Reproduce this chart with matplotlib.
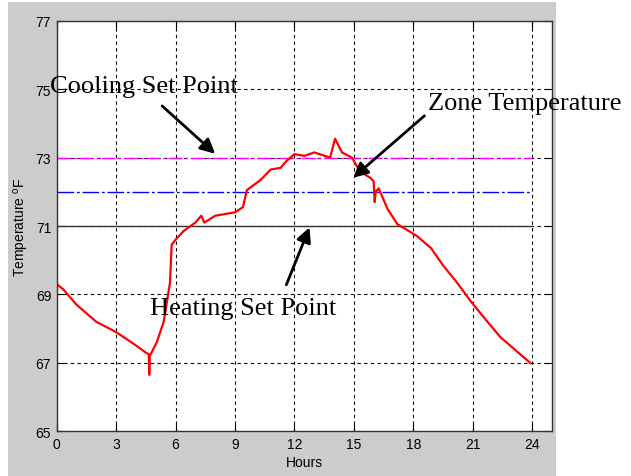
import matplotlib
matplotlib.use("Agg")
from matplotlib import pyplot as plt
from matplotlib.patches import Rectangle

plt.rcParams.update(
    {
        "font.family": "Liberation Sans",
        "font.size": 10,
        "mathtext.fontset": "custom",
        "mathtext.rm": "Liberation Sans",
    }
)

# zone temperature (hours, degF)
hours = [0, 0, 0.33, 1.0, 2.0, 3.0, 3.9, 4.5, 4.65, 4.67, 4.7, 5.05, 5.4, 5.72,
         5.8, 6.0, 6.4, 7.0, 7.3, 7.45, 8.0, 9.0, 9.4, 9.6, 10.3, 10.8, 11.3,
         11.6, 12.0, 12.5, 13.0, 13.8, 14.05, 14.4, 14.9, 15.3, 15.85, 16.0,
         16.05, 16.1, 16.25, 16.7, 17.2, 17.5, 18.2, 18.9, 19.5, 20.2, 20.9,
         21.6, 22.4, 23.2, 23.9]
zone_temp = [68.1, 69.3, 69.15, 68.7, 68.2, 67.9, 67.55, 67.3, 67.25, 66.65,
             67.2, 67.6, 68.2, 69.35, 70.45, 70.6, 70.85, 71.1, 71.3, 71.1,
             71.3, 71.4, 71.55, 72.05, 72.35, 72.65, 72.7, 72.9, 73.1, 73.05,
             73.15, 73.0, 73.55, 73.15, 73.0, 72.6, 72.4, 72.3, 71.7, 72.0,
             72.1, 71.5, 71.05, 70.95, 70.7, 70.35, 69.85, 69.35, 68.8, 68.3,
             67.75, 67.35, 67.0]

cooling_sp = 73
middle_sp = 72
heating_sp = 71
sp_hours = [0, 24]

x_ticks = [0, 3, 6, 9, 12, 15, 18, 21, 24]
y_ticks = [65, 67, 69, 71, 73, 75, 77]

fig = plt.figure(figsize=(6.31, 4.77), dpi=100, facecolor="white")
fig.patches.append(Rectangle((8 / 631, 0), 548 / 631, 474 / 477,
                             transform=fig.transFigure, facecolor="#cccccc",
                             edgecolor="none", zorder=-10))

ax = fig.add_axes([56.7 / 631, 1 - 432.3 / 477, 495.3 / 631, 410.6 / 477])
ax.set_facecolor("white")

ax.plot(sp_hours, [cooling_sp] * 2, color="magenta", lw=1, ls=(0, (10, 2, 2, 2)))
ax.plot(sp_hours, [middle_sp] * 2, color="blue", lw=1, ls=(0, (12, 2, 2, 2)))
ax.plot(sp_hours, [heating_sp] * 2, color="#333333", lw=1)
ax.plot(hours, zone_temp, color="red", lw=1.6)

ax.set_xlim(0, 25)
ax.set_ylim(65, 77)
ax.set_xticks(x_ticks)
ax.set_yticks(y_ticks)
ax.grid(True, color="black", lw=0.8, ls=(0, (3, 3)))
ax.tick_params(direction="in", top=True, right=True, length=5, pad=4,
               colors="black", labelsize=10)
for s in ax.spines.values():
    s.set_color("#333333")
    s.set_linewidth(1)

ax.set_xlabel("Hours", fontsize=10, labelpad=3)
ax.set_ylabel(r"Temperature $^\mathrm{o}$F", fontsize=10, labelpad=3)

arrow = dict(arrowstyle="-|>", lw=2, color="black", mutation_scale=22,
             shrinkA=0, shrinkB=0)
txt = dict(fontfamily="Liberation Serif", fontsize=19, va="baseline",
           annotation_clip=False)
ax.annotate("", xy=(8.0, 73.11), xytext=(5.32, 74.51), arrowprops=arrow,
            annotation_clip=False)
ax.annotate("", xy=(14.96, 72.41), xytext=(18.56, 74.22), arrowprops=arrow,
            annotation_clip=False)
ax.annotate("", xy=(12.76, 70.96), xytext=(11.59, 69.28), arrowprops=arrow,
            annotation_clip=False)
ax.annotate("Cooling Set Point", xy=(-0.34, 74.93), **txt)
ax.annotate("Zone Temperature", xy=(18.76, 74.42), **txt)
ax.annotate("Heating Set Point", xy=(4.71, 68.43), **txt)

fig.savefig("out.png", dpi=100, facecolor=fig.get_facecolor())
